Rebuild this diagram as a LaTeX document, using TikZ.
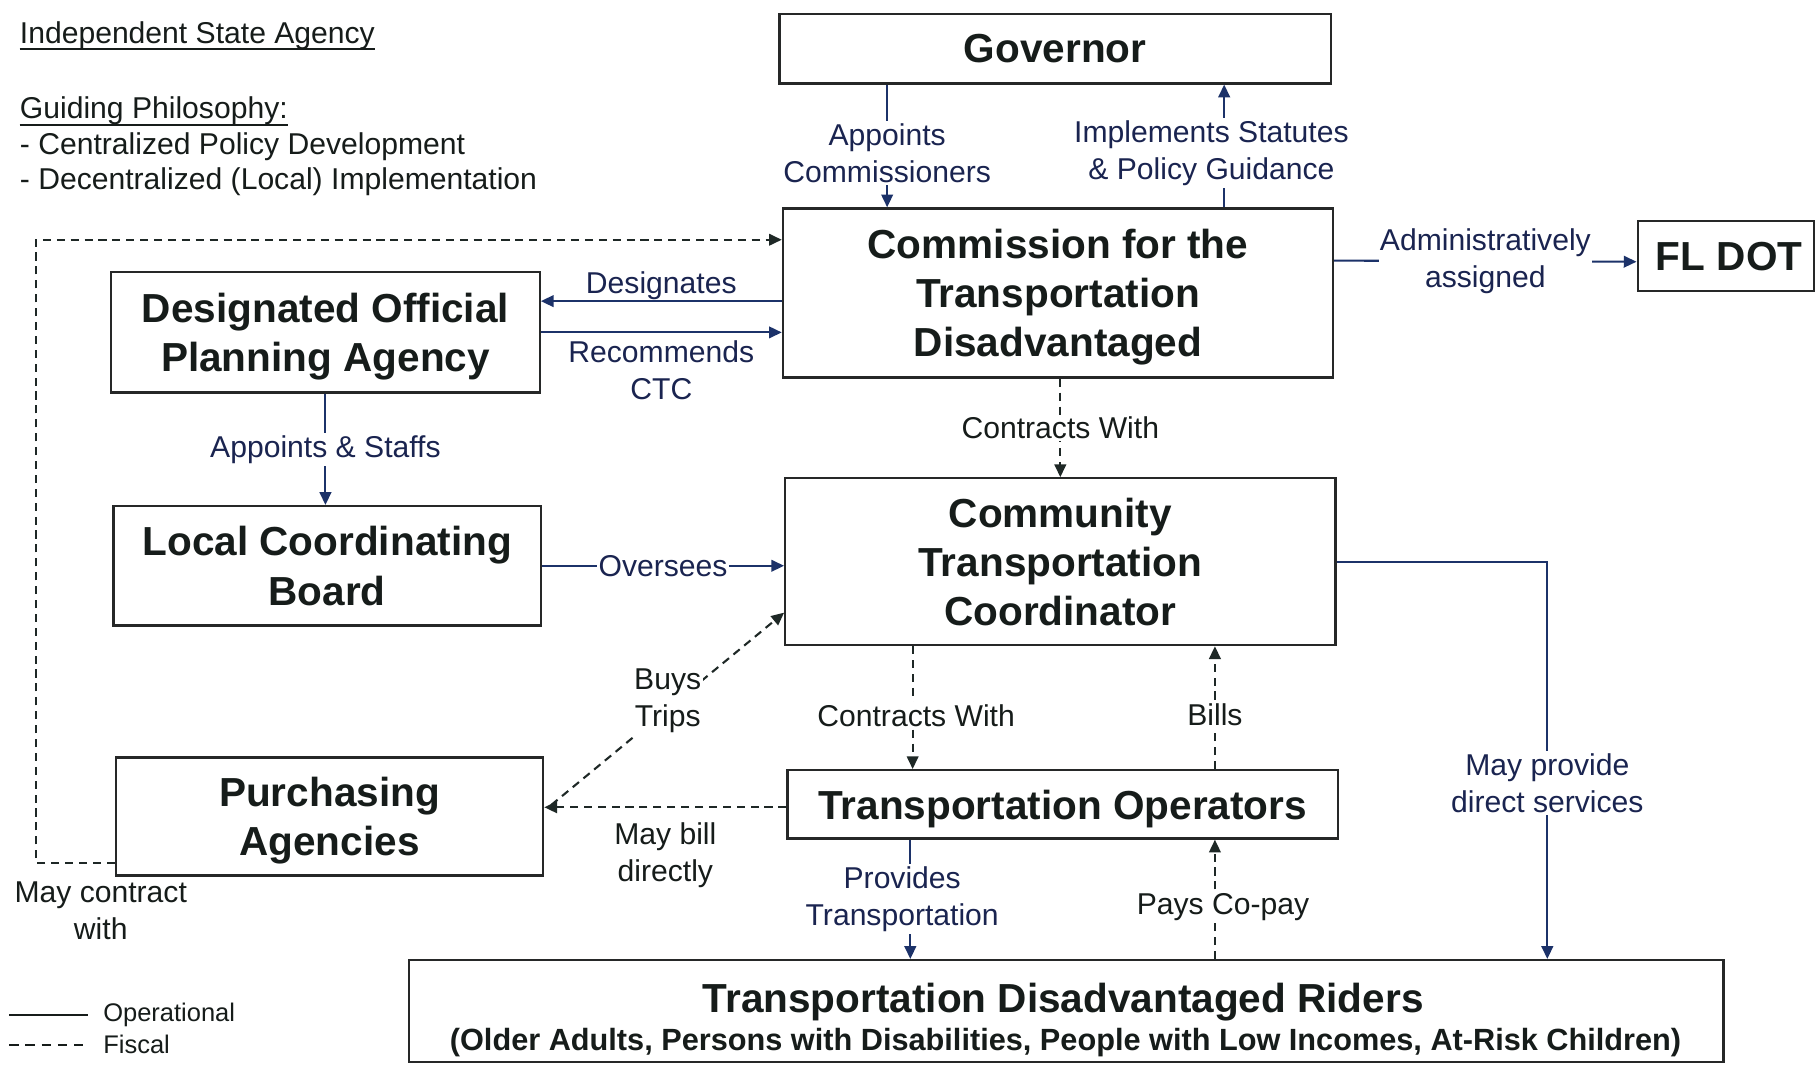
\documentclass[tikz,border=0pt]{standalone}
\usepackage{fontspec}
\setmainfont{Liberation Sans}
\usetikzlibrary{arrows.meta}
\definecolor{ink}{RGB}{22,28,26}
\definecolor{navy}{RGB}{26,36,80}
\definecolor{opblue}{RGB}{28,50,105}
\definecolor{boxc}{RGB}{38,40,40}
\definecolor{fisc}{RGB}{30,40,38}
\newcommand\boxfont{\fontsize{35}{42.5}\selectfont\bfseries}
\newcommand\labfont{\fontsize{26}{32}\selectfont}
\newcommand\subfont{\fontsize{26.5}{32}\selectfont\bfseries}
\newcommand\legfont{\fontsize{22}{26}\selectfont}
\tikzset{
  box/.style={draw=boxc, line width=2pt, inner sep=0pt, align=center, font=\boxfont, text=ink, fill=white, text depth=0pt},
  op/.style={draw=opblue, line width=1.8pt},
  fis/.style={draw=fisc, line width=1.8pt, dash pattern=on 7pt off 5pt},
  arr/.style={-{Triangle[length=11pt,width=10pt]}},
  lab/.style={fill=white, inner sep=2pt, align=center, font=\labfont, text=navy},
  flab/.style={lab, text=ink},
  plain/.style={inner sep=0pt, font=\labfont, text=ink, align=left},
}
\begin{document}
\begin{tikzpicture}[x=1pt,y=-1pt]
\useasboundingbox[fill=white] (0,0) rectangle (1568,918.7);

% top-left notes
\node[plain, anchor=base west] (isa) at (17,37.5) {Independent State Agency};
\draw[ink, line width=1.8pt] ([yshift=-5pt]isa.base west) -- ([yshift=-5pt]isa.base east);
\node[plain, anchor=base west] (gp) at (17,102) {Guiding Philosophy:};
\draw[ink, line width=1.8pt] ([yshift=-6pt]gp.base west) -- ([yshift=-6pt]gp.base east);
\node[plain, anchor=base west] (gp1) at (17,133) {- Centralized Policy Development};
\node[plain, anchor=base west] (gp2) at (17,164) {- Decentralized (Local) Implementation};

% boxes
\node[box, minimum width=476pt, minimum height=60pt] (gov) at (911,42) {Governor};
\node[box, minimum width=475pt, minimum height=146pt] (ctd) at (913.5,253) {Commission for the\\Transportation\\Disadvantaged};
\node[box, minimum width=152pt, minimum height=60pt] (fldot) at (1490,221) {\hspace*{6pt}FL DOT};
\node[box, minimum width=370pt, minimum height=104pt] (dopa) at (281,287) {Designated Official\\Planning Agency};
\node[box, minimum width=369pt, minimum height=103pt] (lcb) at (282.5,488.5) {Local Coordinating\\Board};
\node[box, minimum width=475pt, minimum height=144pt] (ctc) at (915.5,485) {Community\\Transportation\\Coordinator};
\node[box, minimum width=369pt, minimum height=102pt] (pa) at (284.5,705) {Purchasing\\Agencies};
\node[box, minimum width=475pt, minimum height=59pt] (to) at (917.5,694.5) {Transportation Operators};
\node[box, minimum width=1135pt, minimum height=88pt] (riders) at (920.5,873) {};
\node[font=\boxfont, text=ink, anchor=base, inner sep=0pt] (ridT) at (918,874) {Transportation Disadvantaged Riders};
\node[font=\subfont, text=ink, anchor=base, inner sep=0pt] (ridS) at (920,907) {(Older Adults, Persons with Disabilities, People with Low Incomes, At-Risk Children)};

% operational connectors
\draw[op,arr] ([xshift=94pt]gov.south west) -- node[lab,pos=0.556] (lAC) {Appoints\\Commissioners} ([xshift=91pt]ctd.north west);
\draw[op,arr] ([xshift=382pt]ctd.north west) -- node[lab,pos=0.444,xshift=-11pt] (lIS) {Implements Statutes\\\& Policy Guidance} ([xshift=385pt]gov.south west);
\draw[op,arr] ([yshift=-46pt]ctd.north east) -- node[lab,inner sep=1pt] (lAA) {Administratively\\assigned} ([yshift=-5pt]fldot.west);
\draw[op,arr] ([yshift=-81pt]ctd.north west) -- node[above, font=\labfont, text=navy, inner sep=0.5pt] (lDes) {Designates} ([yshift=-26pt]dopa.north east);
\draw[op,arr] (dopa.east) -- node[below, font=\labfont, text=navy, inner sep=6pt, align=center] (lRec) {Recommends\\CTC} (dopa.east -| ctd.west);
\draw[op,arr] (dopa.south) -- node[lab] (lAS) {Appoints \& Staffs} (dopa.south |- lcb.north);
\draw[op,arr] (lcb.east) -- node[lab,inner sep=1pt] (lOv) {Oversees} (lcb.east -| ctc.west);
\draw[op,arr] (ctc.east) -| node[lab,pos=0.779] (lMP) {May provide\\direct services} ([xshift=984pt]riders.north west);
\draw[op,arr] ([xshift=107pt]to.south west) -- node[lab,xshift=-7pt] (lPT) {Provides\\Transportation} ([xshift=434pt]riders.north west);

% fiscal connectors
\draw[fis,arr] (ctd.south -| ctc.north) -- node[flab] (lCW1) {Contracts With} (ctc.north);
\draw[fis,arr] ([xshift=111pt]ctc.south west) -- node[flab,pos=0.565,xshift=3pt] (lCW2) {Contracts With} ([xshift=109pt]to.north west);
\draw[fis,arr] ([xshift=370pt]to.north west) -- node[flab,pos=0.444] (lBills) {Bills} ([xshift=372pt]ctc.south west);
\draw[fis,arr] ([xshift=697pt]riders.north west) -- node[flab,pos=0.438,xshift=7pt] (lPC) {Pays Co-pay} ([xshift=370pt]to.south west);
\draw[fis,arr] ([yshift=-2.5pt]to.west) -- node[below, font=\labfont, text=ink, inner sep=2pt, yshift=-10pt, align=center] (lMB) {May bill\\directly} ([yshift=-2.5pt]to.west -| pa.east);
\draw[fis,arr] ([xshift=6pt,yshift=10pt]pa.east) -- node[flab,pos=0.5,yshift=7pt] (lBT) {Buys\\Trips} ([yshift=-117pt]ctc.north west);
\draw[fis,arr] ([yshift=12pt]pa.south west) -- ++(-68,0) |- ([yshift=-28pt]ctd.north west);
\node[font=\labfont, text=ink, align=center, inner sep=0pt] (lMC) at (87,786) {May contract\\with};

% legend
\coordinate (lg1a) at (8,876);
\coordinate (lg1b) at (76,876);
\coordinate (lg2a) at (8,902);
\coordinate (lg2b) at (76,902);
\draw[ink, line width=1.8pt] (lg1a) -- (lg1b);
\draw[ink, line width=1.8pt, dash pattern=on 8pt off 6pt] (lg2a) -- (lg2b);
\node[anchor=west, font=\legfont, text=ink, inner sep=0pt] (legOp) at (89,876) {Operational};
\node[anchor=west, font=\legfont, text=ink, inner sep=0pt] (legFi) at (89,902) {Fiscal};
\end{tikzpicture}
\end{document}
